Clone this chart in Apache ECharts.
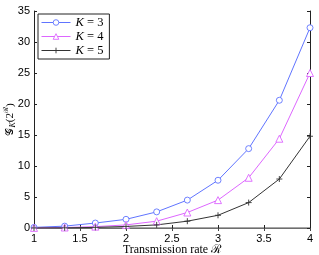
<!DOCTYPE html>
<html><head><meta charset="utf-8">
<script src="https://cdn.jsdelivr.net/npm/echarts@6/dist/echarts.min.js"></script>
<style>html,body{margin:0;padding:0;background:#fff}#c{width:319px;height:255px}</style>
</head><body><div id="c"></div>
<script>
const rates = [1, 4/3, 5/3, 2, 7/3, 8/3, 3, 10/3, 11/3, 4];
const k3 = [0.1, 0.3, 0.8, 1.4, 2.6, 4.5, 7.7, 12.8, 20.6, 32.3];
const k4 = [0.02, 0.08, 0.22, 0.5, 1.1, 2.5, 4.5, 8.1, 14.4, 25.0];
const k5 = [0.01, 0.03, 0.1, 0.25, 0.5, 1.1, 2.05, 4.1, 7.9, 14.8];
const xTicks = [1, 1.5, 2, 2.5, 3, 3.5, 4];
const yTicks = [0, 5, 10, 15, 20, 25, 30, 35];

const pair = (ys) => rates.map((r, i) => [r, ys[i]]);
const chart = echarts.init(document.getElementById('c'));
const tickFont = {color:'#000', fontSize:11, fontFamily:'Liberation Sans, Arial, sans-serif'};
const serif = 'Liberation Serif, DejaVu Serif, serif';
const plus = 'path://M0,-5L0,5M-5,0L5,0';
chart.setOption({
  animation:false,
  grid:{left:34, right:9, top:11, bottom:27, containLabel:false, outerBoundsMode:'none'},
  legend:{
    orient:'vertical', left:38, top:14, itemWidth:29, itemHeight:7, itemGap:1, itemSymbolKeepAspect:true,
    padding:[2,6,2,3], borderColor:'#222', borderWidth:1, backgroundColor:'#fff',
    itemStyle:{borderWidth:0.9}, lineStyle:{width:1},
    formatter: (n) => '{i|K} = ' + n.slice(-1),
    textStyle:{fontFamily:serif, fontSize:12.5, lineHeight:11, color:'#000',
      rich:{i:{fontStyle:'italic', fontFamily:serif, fontSize:12.5, lineHeight:11}}},
    data:['K3','K4','K5']
  },
  xAxis:[{
    type:'value', min:1, max:4, interval:0.5,
    axisLine:{lineStyle:{color:'#222'}}, axisTick:{inside:true, length:3, lineStyle:{color:'#222'}},
    axisLabel:Object.assign({margin:5, formatter:(v)=> xTicks.includes(v)? String(v):''}, tickFont),
    splitLine:{show:false},
    name:'Transmission rate ℛ', nameLocation:'middle', nameGap:16, nameMoveOverlap:false,
    nameTextStyle:{fontFamily:serif, fontSize:12, color:'#000'}
  },{
    type:'value', position:'top', min:1, max:4, interval:0.5,
    axisLine:{lineStyle:{color:'#888', width:1.5}}, axisTick:{inside:true, length:3, lineStyle:{color:'#444'}},
    axisLabel:{show:false}, splitLine:{show:false}
  }],
  yAxis:[{
    type:'value', min:0, max:35, interval:5,
    axisLine:{show:true, lineStyle:{color:'#222'}}, axisTick:{show:true, inside:true, length:3, lineStyle:{color:'#222'}},
    axisLabel:Object.assign({margin:4, formatter:(v)=> yTicks.includes(v)? String(v):''}, tickFont),
    splitLine:{show:false},
    name:'{a|𝒢}{s|K}{a|(2}{p|ℛ}{a|)}', nameLocation:'middle', nameGap:16, nameRotate:90, nameMoveOverlap:false,
    nameTextStyle:{color:'#000', fontFamily:serif, fontSize:11,
      rich:{a:{fontSize:11, fontFamily:serif, color:'#000', lineHeight:16, verticalAlign:'middle'},
            s:{fontSize:8, fontFamily:serif, fontStyle:'italic', color:'#000', padding:[6,0,0,0]},
            p:{fontSize:7, fontFamily:serif, color:'#000', padding:[0,0,7,0]}}}
  },{
    type:'value', position:'right', min:0, max:35, interval:5,
    axisLine:{show:true, lineStyle:{color:'#222'}}, axisTick:{show:true, inside:true, length:3, lineStyle:{color:'#222'}},
    axisLabel:{show:false}, splitLine:{show:false}
  }],
  series:[
    {name:'K3', type:'line', data:pair(k3), symbol:'circle', symbolSize:6,
     lineStyle:{color:'#6074ff', width:1}, itemStyle:{color:'#ffffff', borderColor:'#6074ff', borderWidth:0.9}},
    {name:'K4', type:'line', data:pair(k4), symbol:'triangle', symbolSize:7,
     lineStyle:{color:'#dd66ff', width:1}, itemStyle:{color:'#ffffff', borderColor:'#dd66ff', borderWidth:0.9}},
    {name:'K5', type:'line', data:pair(k5), symbol:plus, symbolSize:6,
     lineStyle:{color:'#333', width:1}, itemStyle:{color:'none', borderColor:'#333', borderWidth:0.9}}
  ]
});
</script></body></html>
